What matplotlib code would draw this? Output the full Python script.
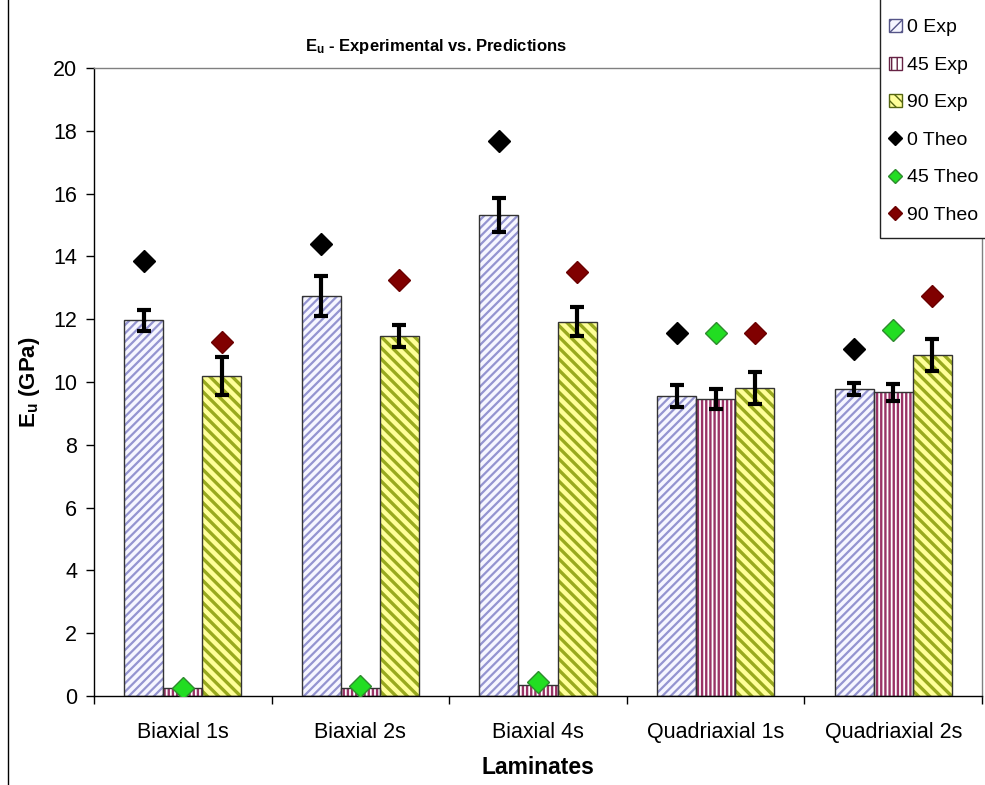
import numpy as np
import matplotlib
matplotlib.use("Agg")
import matplotlib.pyplot as plt
from matplotlib.patches import Patch, Rectangle
from matplotlib.lines import Line2D

plt.rcParams['font.family'] = ['Liberation Sans', 'DejaVu Sans']
plt.rcParams['mathtext.fontset'] = 'custom'
plt.rcParams['mathtext.rm'] = 'Liberation Sans:bold'
plt.rcParams['mathtext.it'] = 'Liberation Sans:bold'
plt.rcParams['mathtext.bf'] = 'Liberation Sans:bold'

categories = ['Biaxial 1s', 'Biaxial 2s', 'Biaxial 4s', 'Quadriaxial 1s', 'Quadriaxial 2s']

exp0 = [11.97, 12.74, 15.31, 9.55, 9.78]
exp0_err = [0.33, 0.64, 0.54, 0.34, 0.18]
exp45 = [0.24, 0.27, 0.36, 9.46, 9.67]
exp45_err = [0.0, 0.0, 0.0, 0.32, 0.28]
exp90 = [10.19, 11.46, 11.92, 9.81, 10.86]
exp90_err = [0.60, 0.34, 0.46, 0.52, 0.52]

theo0 = [13.85, 14.39, 17.68, 11.55, 11.06]
theo45 = [0.27, 0.33, 0.46, 11.55, 11.67]
theo90 = [11.28, 13.24, 13.50, 11.55, 12.74]

yticks = [0, 2, 4, 6, 8, 10, 12, 14, 16, 18, 20]

W, H = 985, 785
fig = plt.figure(figsize=(W / 100, H / 100), dpi=100)
ax = fig.add_axes([94 / W, 1 - 696 / H, 888 / W, 628 / H])

x = np.arange(len(categories))
bw = 0.22

bar_styles = [
    # values, errors, face, hatch colour, hatch, hatch width, offset
    (exp0, exp0_err, '#F6F6FF', '#9494D0', '////', 1.6, -bw),
    (exp45, exp45_err, '#FFFFFF', '#993366', '||||', 1.7, 0.0),
    (exp90, exp90_err, '#FFFF99', '#99AA1E', '\\\\\\', 2.4, bw),
]

for vals, errs, face, hc, hatch, hlw, off in bar_styles:
    bars = ax.bar(x + off, vals, bw, color=face, edgecolor=hc, hatch=hatch,
                  linewidth=0, zorder=2)
    for b in bars:
        if hasattr(b, 'set_hatch_linewidth'):
            b.set_hatch_linewidth(hlw)
    ax.bar(x + off, vals, bw, fill=False, edgecolor='#333333', linewidth=1.0, zorder=3)
    e = np.array(errs)
    m = e > 0
    ax.errorbar((x + off)[m], np.array(vals)[m], yerr=e[m], fmt='none', ecolor='black',
                elinewidth=3, capsize=4.8, capthick=3, zorder=4)

ms = 11.5
ax.plot(x - bw, theo0, 'D', color='black', mec='black', ms=ms, ls='none', zorder=5)
ax.plot(x, theo45, 'D', color='#22DD22', mec='#2E8B2E', mew=1.0, ms=ms, ls='none', zorder=5)
ax.plot(x + bw, theo90, 'D', color='#800000', mec='#6A0000', mew=1.0, ms=ms, ls='none', zorder=5)

ax.set_xlim(-0.5, len(categories) - 0.5)
ax.set_ylim(0, 20)
ax.set_yticks(yticks)
ax.set_yticklabels([str(v) for v in yticks], fontsize=15.5)
ax.set_xticks(x)
ax.set_xticklabels(categories, fontsize=15.5)
ax.tick_params(axis='x', which='major', length=0, pad=19)
ax.set_xticks(np.arange(len(categories) + 1) - 0.5, minor=True)
ax.tick_params(axis='x', which='minor', length=6, width=1, direction='out')
ax.tick_params(axis='y', length=6, width=1, direction='out', pad=6)

for s in ['left', 'bottom']:
    ax.spines[s].set_color('black')
    ax.spines[s].set_linewidth(1.0)
for s in ['top', 'right']:
    ax.spines[s].set_color('#808080')
    ax.spines[s].set_linewidth(1.0)

fig.text(436 / W, 1 - 47 / H, r'$\mathbf{E_u}$ - Experimental vs. Predictions',
         ha='center', va='center', fontsize=12, fontweight='bold')
fig.text(30 / W, 1 - 382 / H, r'$\mathbf{E_u}$ (GPa)', rotation=90,
         ha='center', va='center', fontsize=16, fontweight='bold')
fig.text(538 / W, 1 - 768 / H, 'Laminates', ha='center', va='center',
         fontsize=16.5, fontweight='bold')

# legend frame drawn as its own box
fig.add_artist(Rectangle((880 / W, 1 - 238 / H), 120 / W, 245 / H,
                         transform=fig.transFigure, facecolor='white',
                         edgecolor='#222222', lw=1.0, zorder=9))

handles = [
    Patch(facecolor='#F6F6FF', edgecolor='#555588', hatch='///', linewidth=1),
    Patch(facecolor='#FFFFFF', edgecolor='#662244', hatch='|||', linewidth=1),
    Patch(facecolor='#FFFF99', edgecolor='#556611', hatch='\\\\\\', linewidth=1),
    Line2D([], [], marker='D', color='black', ls='none', ms=7.5),
    Line2D([], [], marker='D', color='#22DD22', mec='#2E8B2E', ls='none', ms=7.5),
    Line2D([], [], marker='D', color='#800000', mec='#6A0000', ls='none', ms=7.5),
]
labels = ['0 Exp', '45 Exp', '90 Exp', '0 Theo', '45 Theo', '90 Theo']
leg = fig.legend(handles, labels, loc='upper left', bbox_to_anchor=(889 / W, 1 - 19 / H),
                 frameon=False, fontsize=14,
                 handlelength=0.65, handleheight=0.65, handletextpad=0.3,
                 labelspacing=1.04, borderpad=0.0, borderaxespad=0)
leg.set_zorder(10)

fig.add_artist(Line2D([8 / W, 8 / W], [0, 1], transform=fig.transFigure,
                      color='black', lw=1.0))

fig.savefig('out.png', dpi=100)
